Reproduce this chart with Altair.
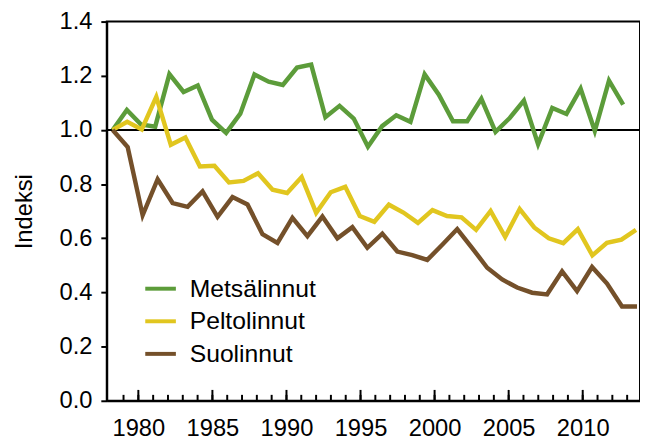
import altair as alt
import pandas as pd

# ---- data ----
series_names = ["Metsälinnut", "Peltolinnut", "Suolinnut"]
series_colors = ["#5c9c3a", "#e1c61f", "#74502a"]

metsa_years = list(range(1979, 2016))
metsa_values = [1.00, 1.074, 1.020, 1.012, 1.206, 1.140, 1.164, 1.038, 0.989, 1.060,
                1.205, 1.178, 1.166, 1.230, 1.241, 1.047, 1.089, 1.042, 0.938, 1.014,
                1.054, 1.030, 1.205, 1.130, 1.032, 1.032, 1.115, 0.993, 1.044, 1.108,
                0.947, 1.081, 1.059, 1.152, 0.996, 1.182, 1.093]

pelto_years = list(range(1979, 2016))
pelto_values = [1.00, 1.030, 1.002, 1.122, 0.945, 0.972, 0.865, 0.868, 0.806, 0.812,
                0.840, 0.779, 0.767, 0.826, 0.694, 0.770, 0.790, 0.682, 0.661, 0.724,
                0.695, 0.657, 0.704, 0.682, 0.677, 0.631, 0.701, 0.605, 0.708, 0.640,
                0.600, 0.582, 0.634, 0.537, 0.583, 0.595, 0.631]

suo_years = list(range(1979, 2015))
suo_values = [1.00, 0.937, 0.685, 0.818, 0.730, 0.716, 0.773, 0.679, 0.752, 0.725,
              0.615, 0.583, 0.675, 0.608, 0.680, 0.600, 0.641, 0.565, 0.617, 0.551,
              0.538, 0.520, 0.576, 0.634, 0.564, 0.491, 0.448, 0.418, 0.399, 0.393,
              0.478, 0.405, 0.494, 0.433, 0.348, 0.348]

tick_years = list(range(1979, 2014))
label_years = [1980, 1985, 1990, 1995, 2000, 2005, 2010]
y_ticks = [0.0, 0.2, 0.4, 0.6, 0.8, 1.0, 1.2, 1.4]
reference_level = [1.0]

FONT = "Liberation Sans"
W, H = 540, 384

y_enc = alt.Y(
    "indeksi:Q",
    scale=alt.Scale(domain=[0, 1.4], nice=False, zero=True),
    axis=alt.Axis(values=y_ticks, format=".1f", tickSize=6, tickWidth=2, tickColor="black",
                  domainColor="black", domainWidth=2, grid=False, labelFontSize=24,
                  labelColor="black", labelPadding=9, title="Indeksi", titleFontSize=24,
                  titleFontWeight="normal", titleColor="black", titlePadding=23),
)

color_enc = alt.Color(
    "sarja:N",
    scale=alt.Scale(domain=series_names, range=series_colors),
    legend=alt.Legend(title=None, orient="none", legendX=37, legendY=253,
                      symbolType="stroke", symbolSize=961, symbolStrokeWidth=4,
                      labelFontSize=25, labelColor="black", labelOffset=12,
                      rowPadding=2, padding=0, labelLimit=300),
)


def series_layer(name, years, values, domain):
    df = pd.DataFrame({"vuosi": years, "indeksi": values, "sarja": name})
    return alt.Chart(df).mark_line(strokeWidth=4.5).encode(
        x=alt.X("vuosi:Q", scale=alt.Scale(domain=domain, nice=False, zero=False), axis=None),
        y=y_enc,
        color=color_enc,
    )


# axis group: year axis, 1.0 reference line and inward ticks
axis_scale = alt.Scale(domain=[1977.867, 2013.867], nice=False, zero=False)
ref_df = pd.DataFrame({"indeksi": reference_level})
ref_rule = alt.Chart(ref_df).mark_rule(color="black", strokeWidth=2).encode(y=y_enc)

ticks_df = pd.DataFrame({"vuosi": tick_years})
minor_ticks = alt.Chart(ticks_df).mark_rule(color="black", strokeWidth=2).encode(
    x=alt.X("vuosi:Q", scale=axis_scale,
            axis=alt.Axis(values=label_years, format="d", ticks=False, domainColor="black",
                          domainWidth=2, grid=False, labelFontSize=24, labelColor="black",
                          labelPadding=16, title=None)),
    y=alt.value(H), y2=alt.value(H - 6),
)
major_df = pd.DataFrame({"vuosi": label_years})
major_ticks = alt.Chart(major_df).mark_rule(color="black", strokeWidth=2).encode(
    x=alt.X("vuosi:Q", scale=axis_scale),
    y=alt.value(H), y2=alt.value(H - 11),
)
axis_group = alt.layer(ref_rule, minor_ticks, major_ticks)

chart = alt.layer(
    axis_group,
    series_layer(series_names[0], metsa_years, metsa_values, [1978.582, 2016.187]),
    series_layer(series_names[1], pelto_years, pelto_values, [1978.592, 2015.277]),
    series_layer(series_names[2], suo_years, suo_values, [1978.604, 2014.201]),
).resolve_scale(x="independent").properties(
    width=W, height=H,
    padding={"left": 100, "top": 11, "right": 0, "bottom": 40},
    autosize=alt.AutoSizeParams(type="none"),
).configure(font=FONT).configure_view(stroke="black", strokeWidth=2)

chart.save("out.html", embed_options={"renderer": "svg", "actions": False})
